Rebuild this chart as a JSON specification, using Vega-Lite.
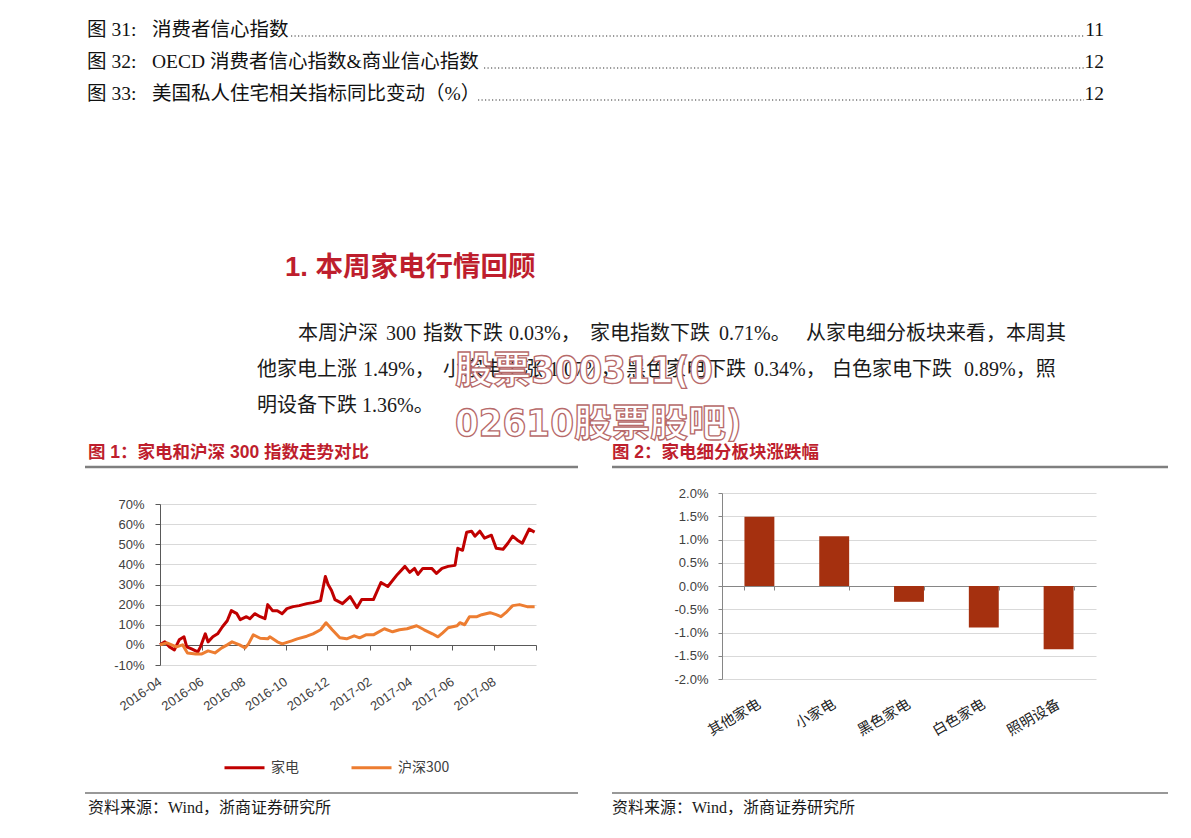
{
  "$schema": "https://vega.github.io/schema/vega-lite/v6.json",
  "padding": 0,
  "background": "#ffffff",
  "bounds": "flush",
  "spacing": 186,
  "config": {
    "view": {"stroke": null},
    "axis": {"labelFont": "Liberation Sans", "domainWidth": 1, "tickWidth": 1},
    "text": {"font": "Liberation Serif, Noto Sans CJK SC", "color": "#1a1a1a", "align": "left", "baseline": "middle", "fontSize": 20}
  },
  "hconcat": [
    {
      "width": 376,
      "height": 172,
      "layer": [
        {"data": {"values": [{}]}, "mark": {"type": "rect", "fill": "#ffffff", "fillOpacity": 0}, "encoding": {"x": {"value": -160}, "x2": {"value": 1031}, "y": {"value": -493}, "y2": {"value": 345}}},
        {"data": {"values": [{}]}, "mark": {"type": "text", "text": "图 31:", "fontSize": 19.5, "color": "#111111"}, "encoding": {"x": {"value": -73}, "y": {"value": -463}}},
        {"data": {"values": [{}]}, "mark": {"type": "text", "text": "消费者信心指数", "fontSize": 19.5, "color": "#111111"}, "encoding": {"x": {"value": -8}, "y": {"value": -463}}},
        {"data": {"values": [{}]}, "mark": {"type": "text", "text": "图 32:", "fontSize": 19.5, "color": "#111111"}, "encoding": {"x": {"value": -73}, "y": {"value": -431}}},
        {"data": {"values": [{}]}, "mark": {"type": "text", "text": "OECD 消费者信心指数&商业信心指数", "fontSize": 19.5, "color": "#111111"}, "encoding": {"x": {"value": -8}, "y": {"value": -431}}},
        {"data": {"values": [{}]}, "mark": {"type": "text", "text": "图 33:", "fontSize": 19.5, "color": "#111111"}, "encoding": {"x": {"value": -73}, "y": {"value": -399}}},
        {"data": {"values": [{}]}, "mark": {"type": "text", "text": "美国私人住宅相关指标同比变动（%）", "fontSize": 19.5, "color": "#111111"}, "encoding": {"x": {"value": -8}, "y": {"value": -399}}},
        {"data": {"values": [{}]}, "mark": {"type": "text", "text": "11", "align": "right", "fontSize": 19.5, "color": "#111111"}, "encoding": {"x": {"value": 944}, "y": {"value": -463}}},
        {"data": {"values": [{}]}, "mark": {"type": "text", "text": "12", "align": "right", "fontSize": 19.5, "color": "#111111"}, "encoding": {"x": {"value": 944}, "y": {"value": -431}}},
        {"data": {"values": [{}]}, "mark": {"type": "text", "text": "12", "align": "right", "fontSize": 19.5, "color": "#111111"}, "encoding": {"x": {"value": 944}, "y": {"value": -399}}},
        {"data": {"values": [{}]}, "mark": {"type": "rule", "stroke": "#333333", "strokeWidth": 1.2, "strokeDash": [1.2, 2.3]}, "encoding": {"x": {"value": 131}, "x2": {"value": 924}, "y": {"value": -457}}},
        {"data": {"values": [{}]}, "mark": {"type": "rule", "stroke": "#333333", "strokeWidth": 1.2, "strokeDash": [1.2, 2.3]}, "encoding": {"x": {"value": 324}, "x2": {"value": 924}, "y": {"value": -425}}},
        {"data": {"values": [{}]}, "mark": {"type": "rule", "stroke": "#333333", "strokeWidth": 1.2, "strokeDash": [1.2, 2.3]}, "encoding": {"x": {"value": 318}, "x2": {"value": 924}, "y": {"value": -393}}},
        {"data": {"values": [{}]}, "mark": {"type": "text", "text": "1. 本周家电行情回顾", "fontSize": 27.5, "fontWeight": "bold", "font": "Liberation Sans, Noto Sans CJK SC", "color": "#BE1E2D"}, "encoding": {"x": {"value": 125}, "y": {"value": -225}}},
        {"data": {"values": [{}]}, "mark": {"type": "text", "text": "本周沪深"}, "encoding": {"x": {"value": 138}, "y": {"value": -159}}},
        {"data": {"values": [{}]}, "mark": {"type": "text", "text": "300"}, "encoding": {"x": {"value": 226}, "y": {"value": -159}}},
        {"data": {"values": [{}]}, "mark": {"type": "text", "text": "指数下跌"}, "encoding": {"x": {"value": 263}, "y": {"value": -159}}},
        {"data": {"values": [{}]}, "mark": {"type": "text", "text": "0.03%，"}, "encoding": {"x": {"value": 349}, "y": {"value": -159}}},
        {"data": {"values": [{}]}, "mark": {"type": "text", "text": "家电指数下跌"}, "encoding": {"x": {"value": 430}, "y": {"value": -159}}},
        {"data": {"values": [{}]}, "mark": {"type": "text", "text": "0.71%。"}, "encoding": {"x": {"value": 559}, "y": {"value": -159}}},
        {"data": {"values": [{}]}, "mark": {"type": "text", "text": "从家电细分板块来看，本周其"}, "encoding": {"x": {"value": 646}, "y": {"value": -159}}},
        {"data": {"values": [{}]}, "mark": {"type": "text", "text": "他家电上涨"}, "encoding": {"x": {"value": 97}, "y": {"value": -123}}},
        {"data": {"values": [{}]}, "mark": {"type": "text", "text": "1.49%，"}, "encoding": {"x": {"value": 203}, "y": {"value": -123}}},
        {"data": {"values": [{}]}, "mark": {"type": "text", "text": "小家电上涨"}, "encoding": {"x": {"value": 283}, "y": {"value": -123}}},
        {"data": {"values": [{}]}, "mark": {"type": "text", "text": "1.07%，"}, "encoding": {"x": {"value": 389}, "y": {"value": -123}}},
        {"data": {"values": [{}]}, "mark": {"type": "text", "text": "黑色家电下跌"}, "encoding": {"x": {"value": 466}, "y": {"value": -123}}},
        {"data": {"values": [{}]}, "mark": {"type": "text", "text": "0.34%，"}, "encoding": {"x": {"value": 594}, "y": {"value": -123}}},
        {"data": {"values": [{}]}, "mark": {"type": "text", "text": "白色家电下跌"}, "encoding": {"x": {"value": 672}, "y": {"value": -123}}},
        {"data": {"values": [{}]}, "mark": {"type": "text", "text": "0.89%，照"}, "encoding": {"x": {"value": 804}, "y": {"value": -123}}},
        {"data": {"values": [{}]}, "mark": {"type": "text", "text": "明设备下跌 1.36%。"}, "encoding": {"x": {"value": 97}, "y": {"value": -87}}},
        {"data": {"values": [{}]}, "mark": {"type": "text", "text": "股票300311(0", "fontSize": 38, "fontWeight": "bold", "font": "DejaVu Sans Condensed, Noto Sans CJK SC", "fill": "#ffffff", "stroke": "#b76a6a", "strokeWidth": 1.3}, "encoding": {"x": {"value": 295}, "y": {"value": -121}}},
        {"data": {"values": [{}]}, "mark": {"type": "text", "text": "02610股票股吧)", "fontSize": 38, "fontWeight": "bold", "font": "DejaVu Sans Condensed, Noto Sans CJK SC", "fill": "#ffffff", "stroke": "#b76a6a", "strokeWidth": 1.3}, "encoding": {"x": {"value": 295}, "y": {"value": -68}}},
        {"data": {"values": [{}]}, "mark": {"type": "text", "text": "图 1：家电和沪深 300 指数走势对比", "fontSize": 17.5, "fontWeight": "bold", "font": "Liberation Sans, Noto Sans CJK SC", "color": "#BE1E2D"}, "encoding": {"x": {"value": -72}, "y": {"value": -40}}},
        {"data": {"values": [{}]}, "mark": {"type": "text", "text": "图 2：家电细分板块涨跌幅", "fontSize": 17.5, "fontWeight": "bold", "font": "Liberation Sans, Noto Sans CJK SC", "color": "#BE1E2D"}, "encoding": {"x": {"value": 452}, "y": {"value": -40}}},
        {"data": {"values": [{}]}, "mark": {"type": "rule", "stroke": "#7f7f7f", "strokeWidth": 2.5}, "encoding": {"x": {"value": -75}, "x2": {"value": 418}, "y": {"value": -26}}},
        {"data": {"values": [{}]}, "mark": {"type": "rule", "stroke": "#7f7f7f", "strokeWidth": 2.5}, "encoding": {"x": {"value": 452}, "x2": {"value": 1008}, "y": {"value": -26}}},
        {"data": {"values": [{}]}, "mark": {"type": "rule", "stroke": "#333333", "strokeWidth": 1.2}, "encoding": {"x": {"value": -75}, "x2": {"value": 418}, "y": {"value": 300}}},
        {"data": {"values": [{}]}, "mark": {"type": "rule", "stroke": "#333333", "strokeWidth": 1.2}, "encoding": {"x": {"value": 452}, "x2": {"value": 1008}, "y": {"value": 300}}},
        {"data": {"values": [{}]}, "mark": {"type": "text", "text": "资料来源：Wind，浙商证券研究所", "fontSize": 16}, "encoding": {"x": {"value": -72}, "y": {"value": 315}}},
        {"data": {"values": [{}]}, "mark": {"type": "text", "text": "资料来源：Wind，浙商证券研究所", "fontSize": 16}, "encoding": {"x": {"value": 452}, "y": {"value": 315}}},
        {
          "data": {"values": [
            {"d": "2016-04-01", "s": "家电", "v": 0},
            {"d": "2016-04-08", "s": "家电", "v": 1.5},
            {"d": "2016-04-15", "s": "家电", "v": -1},
            {"d": "2016-04-22", "s": "家电", "v": -2.5},
            {"d": "2016-04-29", "s": "家电", "v": 2.5},
            {"d": "2016-05-06", "s": "家电", "v": 4},
            {"d": "2016-05-10", "s": "家电", "v": -1},
            {"d": "2016-05-17", "s": "家电", "v": -2},
            {"d": "2016-05-26", "s": "家电", "v": -3.5},
            {"d": "2016-05-30", "s": "家电", "v": -1},
            {"d": "2016-06-06", "s": "家电", "v": 5.5},
            {"d": "2016-06-10", "s": "家电", "v": 1.5},
            {"d": "2016-06-17", "s": "家电", "v": 4},
            {"d": "2016-06-24", "s": "家电", "v": 5.5},
            {"d": "2016-07-01", "s": "家电", "v": 9},
            {"d": "2016-07-08", "s": "家电", "v": 12},
            {"d": "2016-07-14", "s": "家电", "v": 17},
            {"d": "2016-07-22", "s": "家电", "v": 15.5},
            {"d": "2016-07-27", "s": "家电", "v": 12.5},
            {"d": "2016-08-05", "s": "家电", "v": 14},
            {"d": "2016-08-10", "s": "家电", "v": 13},
            {"d": "2016-08-17", "s": "家电", "v": 15.5},
            {"d": "2016-08-25", "s": "家电", "v": 14},
            {"d": "2016-09-01", "s": "家电", "v": 13},
            {"d": "2016-09-05", "s": "家电", "v": 20},
            {"d": "2016-09-12", "s": "家电", "v": 17},
            {"d": "2016-09-19", "s": "家电", "v": 17},
            {"d": "2016-09-26", "s": "家电", "v": 15.5},
            {"d": "2016-10-03", "s": "家电", "v": 18},
            {"d": "2016-10-12", "s": "家电", "v": 19},
            {"d": "2016-10-21", "s": "家电", "v": 19.5},
            {"d": "2016-11-01", "s": "家电", "v": 20.5},
            {"d": "2016-11-10", "s": "家电", "v": 21},
            {"d": "2016-11-21", "s": "家电", "v": 22},
            {"d": "2016-11-28", "s": "家电", "v": 34},
            {"d": "2016-12-02", "s": "家电", "v": 30},
            {"d": "2016-12-07", "s": "家电", "v": 27},
            {"d": "2016-12-12", "s": "家电", "v": 22.5},
            {"d": "2016-12-23", "s": "家电", "v": 20.5},
            {"d": "2017-01-03", "s": "家电", "v": 24},
            {"d": "2017-01-13", "s": "家电", "v": 18.5},
            {"d": "2017-01-20", "s": "家电", "v": 22.5},
            {"d": "2017-02-06", "s": "家电", "v": 22.5},
            {"d": "2017-02-17", "s": "家电", "v": 31},
            {"d": "2017-02-27", "s": "家电", "v": 29},
            {"d": "2017-03-13", "s": "家电", "v": 35},
            {"d": "2017-03-24", "s": "家电", "v": 39},
            {"d": "2017-03-31", "s": "家电", "v": 36},
            {"d": "2017-04-07", "s": "家电", "v": 38},
            {"d": "2017-04-12", "s": "家电", "v": 35},
            {"d": "2017-04-19", "s": "家电", "v": 38},
            {"d": "2017-05-02", "s": "家电", "v": 38},
            {"d": "2017-05-09", "s": "家电", "v": 35.5},
            {"d": "2017-05-17", "s": "家电", "v": 38},
            {"d": "2017-05-26", "s": "家电", "v": 39},
            {"d": "2017-06-05", "s": "家电", "v": 39.5},
            {"d": "2017-06-09", "s": "家电", "v": 48},
            {"d": "2017-06-16", "s": "家电", "v": 47},
            {"d": "2017-06-22", "s": "家电", "v": 56},
            {"d": "2017-06-29", "s": "家电", "v": 56.5},
            {"d": "2017-07-04", "s": "家电", "v": 54},
            {"d": "2017-07-11", "s": "家电", "v": 56.5},
            {"d": "2017-07-18", "s": "家电", "v": 53},
            {"d": "2017-07-28", "s": "家电", "v": 54.5},
            {"d": "2017-08-04", "s": "家电", "v": 48},
            {"d": "2017-08-14", "s": "家电", "v": 47.5},
            {"d": "2017-08-21", "s": "家电", "v": 50.5},
            {"d": "2017-08-28", "s": "家电", "v": 54},
            {"d": "2017-09-04", "s": "家电", "v": 52},
            {"d": "2017-09-11", "s": "家电", "v": 50.5},
            {"d": "2017-09-21", "s": "家电", "v": 57.5},
            {"d": "2017-09-29", "s": "家电", "v": 56},
            {"d": "2016-04-01", "s": "沪深300", "v": 0},
            {"d": "2016-04-11", "s": "沪深300", "v": 1},
            {"d": "2016-04-25", "s": "沪深300", "v": -1},
            {"d": "2016-05-04", "s": "沪深300", "v": 0},
            {"d": "2016-05-11", "s": "沪深300", "v": -4},
            {"d": "2016-05-23", "s": "沪深300", "v": -4.5},
            {"d": "2016-06-01", "s": "沪深300", "v": -4.5},
            {"d": "2016-06-10", "s": "沪深300", "v": -3},
            {"d": "2016-06-20", "s": "沪深300", "v": -4},
            {"d": "2016-06-30", "s": "沪深300", "v": -1.5},
            {"d": "2016-07-08", "s": "沪深300", "v": 0},
            {"d": "2016-07-15", "s": "沪深300", "v": 1.5},
            {"d": "2016-07-26", "s": "沪深300", "v": 0},
            {"d": "2016-08-03", "s": "沪深300", "v": -1.5},
            {"d": "2016-08-08", "s": "沪深300", "v": 0.5},
            {"d": "2016-08-15", "s": "沪深300", "v": 5},
            {"d": "2016-08-25", "s": "沪深300", "v": 3.3},
            {"d": "2016-09-05", "s": "沪深300", "v": 3},
            {"d": "2016-09-08", "s": "沪深300", "v": 4},
            {"d": "2016-09-19", "s": "沪深300", "v": 1.5},
            {"d": "2016-09-26", "s": "沪深300", "v": 0.5},
            {"d": "2016-10-10", "s": "沪深300", "v": 2},
            {"d": "2016-10-18", "s": "沪深300", "v": 3},
            {"d": "2016-11-01", "s": "沪深300", "v": 4.3},
            {"d": "2016-11-10", "s": "沪深300", "v": 5.5},
            {"d": "2016-11-21", "s": "沪深300", "v": 7.5},
            {"d": "2016-11-29", "s": "沪深300", "v": 11},
            {"d": "2016-12-08", "s": "沪深300", "v": 7.5},
            {"d": "2016-12-19", "s": "沪深300", "v": 3.5},
            {"d": "2016-12-29", "s": "沪深300", "v": 3},
            {"d": "2017-01-09", "s": "沪深300", "v": 4.5},
            {"d": "2017-01-17", "s": "沪深300", "v": 3.5},
            {"d": "2017-01-26", "s": "沪深300", "v": 5},
            {"d": "2017-02-06", "s": "沪深300", "v": 5},
            {"d": "2017-02-22", "s": "沪深300", "v": 8},
            {"d": "2017-03-06", "s": "沪深300", "v": 6.5},
            {"d": "2017-03-16", "s": "沪深300", "v": 7.5},
            {"d": "2017-03-27", "s": "沪深300", "v": 8},
            {"d": "2017-04-10", "s": "沪深300", "v": 9.5},
            {"d": "2017-04-21", "s": "沪深300", "v": 7.5},
            {"d": "2017-05-03", "s": "沪深300", "v": 5.5},
            {"d": "2017-05-11", "s": "沪深300", "v": 4},
            {"d": "2017-05-18", "s": "沪深300", "v": 6},
            {"d": "2017-05-26", "s": "沪深300", "v": 8.5},
            {"d": "2017-06-08", "s": "沪深300", "v": 9.5},
            {"d": "2017-06-12", "s": "沪深300", "v": 11},
            {"d": "2017-06-19", "s": "沪深300", "v": 10},
            {"d": "2017-06-26", "s": "沪深300", "v": 14},
            {"d": "2017-07-07", "s": "沪深300", "v": 14},
            {"d": "2017-07-14", "s": "沪深300", "v": 15},
            {"d": "2017-07-26", "s": "沪深300", "v": 16},
            {"d": "2017-08-04", "s": "沪深300", "v": 15},
            {"d": "2017-08-11", "s": "沪深300", "v": 14},
            {"d": "2017-08-18", "s": "沪深300", "v": 16},
            {"d": "2017-08-28", "s": "沪深300", "v": 19.5},
            {"d": "2017-09-07", "s": "沪深300", "v": 20},
            {"d": "2017-09-18", "s": "沪深300", "v": 19},
            {"d": "2017-09-29", "s": "沪深300", "v": 19}
          ]},
          "mark": {"type": "line", "strokeWidth": 3, "strokeJoin": "round"},
          "encoding": {
            "x": {
              "field": "d", "type": "temporal",
              "scale": {"type": "utc", "domain": [{"year": 2016, "month": 4, "date": 1, "utc": true}, {"year": 2017, "month": 10, "date": 1, "utc": true}]},
              "axis": {
                "orient": "bottom", "offset": -20, "title": null, "grid": false,
                "values": [
                  {"year": 2016, "month": 4, "date": 1, "utc": true},
                  {"year": 2016, "month": 6, "date": 1, "utc": true},
                  {"year": 2016, "month": 8, "date": 1, "utc": true},
                  {"year": 2016, "month": 10, "date": 1, "utc": true},
                  {"year": 2016, "month": 12, "date": 1, "utc": true},
                  {"year": 2017, "month": 2, "date": 1, "utc": true},
                  {"year": 2017, "month": 4, "date": 1, "utc": true},
                  {"year": 2017, "month": 6, "date": 1, "utc": true},
                  {"year": 2017, "month": 8, "date": 1, "utc": true},
                  {"year": 2017, "month": 10, "date": 1, "utc": true}
                ],
                "labelExpr": "datum.value > 1504000000000 ? '' : utcFormat(datum.value, '%Y-%m')",
                "domainColor": "#595959", "tickColor": "#595959", "tickSize": 5,
                "labelAngle": -35, "labelAlign": "right", "labelBaseline": "middle",
                "labelPadding": 30, "labelFontSize": 13, "labelColor": "#404040",
                "labelFlush": false, "labelOverlap": false, "labelBound": false
              }
            },
            "y": {
              "field": "v", "type": "quantitative",
              "scale": {"domain": [-10, 70], "range": [172, 11], "nice": false, "zero": false},
              "axis": {
                "title": null, "values": [-10, 0, 10, 20, 30, 40, 50, 60, 70],
                "labelExpr": "datum.value + '%'",
                "grid": true, "gridColor": "#d9d9d9",
                "domainColor": "#595959", "tickColor": "#595959", "tickSize": 5,
                "labelPadding": 11, "labelFontSize": 13, "labelColor": "#404040"
              }
            },
            "color": {
              "field": "s", "type": "nominal",
              "scale": {"domain": ["家电", "沪深300"], "range": ["#C00000", "#ED7D31"]},
              "legend": {
                "orient": "none", "legendX": 63, "legendY": 253, "direction": "horizontal",
                "title": null, "symbolType": "stroke", "symbolSize": 1600, "symbolStrokeWidth": 3,
                "labelFontSize": 14, "labelFont": "Noto Sans CJK SC", "labelColor": "#404040",
                "labelOffset": 5, "columnPadding": 46, "padding": 0
              }
            }
          }
        }
      ]
    },
    {
      "width": 374,
      "height": 186,
      "data": {"values": [
        {"c": "其他家电", "v": 1.49},
        {"c": "小家电", "v": 1.07},
        {"c": "黑色家电", "v": -0.34},
        {"c": "白色家电", "v": -0.89},
        {"c": "照明设备", "v": -1.36}
      ]},
      "mark": {"type": "bar", "color": "#A5300F"},
      "encoding": {
        "x": {
          "field": "c", "type": "nominal", "sort": null,
          "scale": {"paddingInner": 0.6, "paddingOuter": 0.3},
          "axis": {
            "orient": "bottom", "offset": -93, "title": null, "grid": false,
            "tickBand": "extent", "tickSize": 4,
            "domainColor": "#868686", "tickColor": "#868686",
            "labelAngle": -30, "labelAlign": "right", "labelBaseline": "middle",
            "labelPadding": 113, "labelFontSize": 14.5, "labelFont": "Liberation Serif, Noto Sans CJK SC",
            "labelColor": "#222222", "labelOverlap": false, "labelBound": false
          }
        },
        "y": {
          "field": "v", "type": "quantitative",
          "scale": {"domain": [-2, 2], "nice": false},
          "axis": {
            "title": null, "values": [-2, -1.5, -1, -0.5, 0, 0.5, 1, 1.5, 2],
            "labelExpr": "(datum.value < 0 ? '-' : '') + format(abs(datum.value), '.1f') + '%'",
            "grid": true, "gridColor": "#d9d9d9",
            "domainColor": "#868686", "tickColor": "#868686", "tickSize": 4,
            "labelPadding": 10, "labelFontSize": 13, "labelColor": "#404040"
          }
        }
      }
    }
  ]
}
